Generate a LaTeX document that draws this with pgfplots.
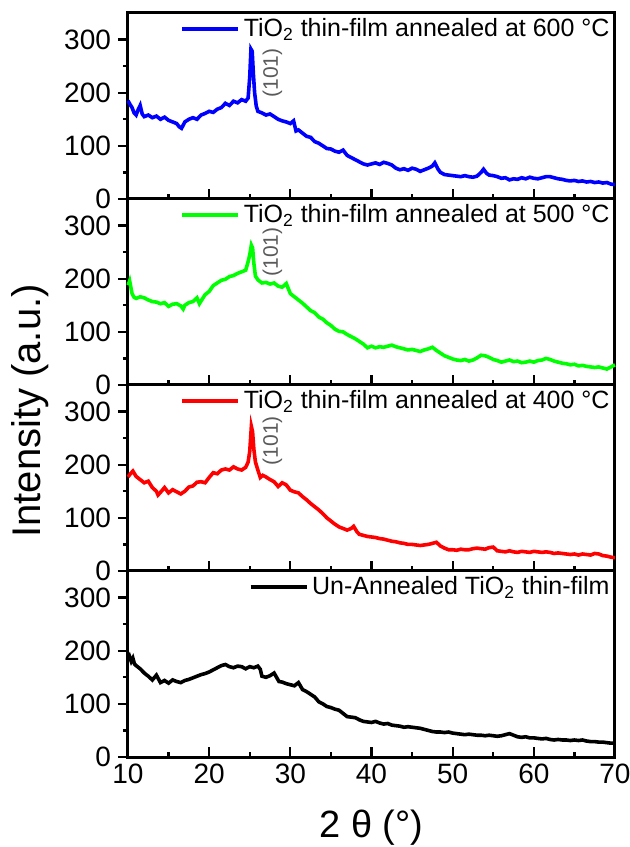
\documentclass[border=0pt]{standalone}
\usepackage{fontspec}
\setmainfont{Liberation Sans}
\usepackage{pgfplots}
\pgfplotsset{compat=1.18}
\definecolor{xgreen}{RGB}{0,255,0}
\definecolor{annot}{RGB}{90,90,90}

\pgfplotsset{
  panel/.style={
    scale only axis,
    width=243.5pt, height=93pt,
    xmin=10, xmax=70, ymin=0, ymax=350,
    xtick={10,20,...,70}, ytick={0,100,200,300},
    minor x tick num=1, minor y tick num=1,
    xtick pos=bottom, ytick pos=left,
    xtick align=inside, ytick align=outside,
    major tick length=5pt, minor tick length=2.5pt,
    every tick/.style={black,line width=1.1pt},
    axis line style={line width=1.5pt},
    tick label style={font=\fontsize{14}{16}\selectfont},
    /pgf/number format/assume math mode=true,
    legend style={at={(1,1)},anchor=north east,draw=none,fill=none,
      inner sep=0.5pt,font=\fontsize{12.5}{14}\selectfont},
    legend image code/.code={\draw[#1,line width=1.6pt] (0pt,0pt) -- (28pt,0pt);},
    clip=false,
  },
  every axis plot/.append style={line width=1.8pt},
}

\begin{document}
\begin{tikzpicture}
\useasboundingbox (-64pt,-45pt) rectangle (251pt,378.5pt);

% 600 C
\begin{axis}[panel, at={(0pt,279pt)}, anchor=south west, xticklabels={}]
\addplot[blue] coordinates {
(10.0,185) (10.25,178) (10.5,172) (10.75,162) (11.0,158) (11.25,168) (11.5,176) (11.75,160)
(12.0,155) (12.5,158) (13.0,153) (13.5,156) (14.0,150) (14.5,154) (15.0,148) (15.5,145)
(16.0,142) (16.3,136) (16.6,133) (17.0,145) (17.5,150) (18.0,153) (18.5,150) (19.0,158)
(19.5,161) (20.0,165) (20.5,163) (21.0,169) (21.5,172) (22.0,180) (22.5,176) (23.0,184)
(23.5,181) (24.0,187) (24.5,184) (24.8,190) (25.0,230) (25.15,282) (25.3,278) (25.45,235)
(25.6,200) (25.8,175) (26.0,165) (26.5,162) (27.0,158) (27.5,160) (28.0,155) (28.5,150)
(29.0,147) (29.5,145) (30.0,142) (30.4,147) (30.7,128) (31.0,130) (31.5,124) (32.0,118)
(32.5,116) (33.0,108) (33.5,105) (34.0,100) (34.5,95) (35.0,94) (35.5,90) (36.0,88)
(36.5,92) (37.0,82) (37.5,78) (38.0,74) (38.5,70) (39.0,66) (39.5,64) (40.0,66)
(40.5,68) (41.0,65) (41.5,69) (42.0,67) (42.5,64) (43.0,58) (43.5,55) (44.0,57)
(44.5,54) (45.0,58) (45.5,56) (46.0,52) (46.5,55) (47.0,58) (47.5,62) (47.8,68)
(48.2,56) (48.5,50) (49.0,46) (49.5,45) (50.0,44) (50.5,43) (51.0,42) (51.5,44)
(52.0,42) (52.5,41) (53.0,43) (53.5,50) (53.8,56) (54.2,48) (54.5,45) (55.0,44)
(55.5,42) (56.0,39) (56.5,40) (57.0,36) (57.5,38) (58.0,37) (58.5,40) (59.0,38)
(59.5,41) (60.0,39) (60.5,38) (61.0,40) (61.5,42) (62.0,42) (62.5,40) (63.0,38)
(63.5,37) (64.0,35) (64.5,34) (65.0,35) (65.5,33) (66.0,34) (66.5,32) (67.0,33)
(67.5,31) (68.0,32) (68.5,30) (69.0,31) (69.5,28) (70.0,27)};
\addlegendentry{TiO\textsubscript{2} thin-film annealed at 600 °C}
\node[rotate=90,text=annot,font=\fontsize{10.5}{12}\selectfont] at (axis cs:27.8,237) {(101)};
\end{axis}

% 500 C
\begin{axis}[panel, at={(0pt,186pt)}, anchor=south west, xticklabels={}]
\addplot[xgreen] coordinates {
(10.0,188) (10.2,196) (10.5,172) (10.75,165) (11.0,163) (11.5,166) (12.0,164) (12.5,160)
(13.0,157) (13.5,156) (14.0,153) (14.5,155) (15.0,148) (15.5,152) (16.0,153) (16.5,149)
(16.8,143) (17.0,150) (17.5,155) (18.0,157) (18.5,164) (18.8,153) (19.0,158) (19.5,170)
(20.0,176) (20.5,187) (21.0,192) (21.5,197) (22.0,199) (22.5,204) (23.0,206) (23.5,210)
(24.0,213) (24.5,216) (24.8,232) (25.0,245) (25.2,263) (25.35,258) (25.5,230) (25.7,205)
(26.0,198) (26.5,192) (27.0,193) (27.5,190) (28.0,192) (28.5,186) (29.0,184) (29.5,191)
(30.0,172) (30.5,166) (31.0,160) (31.5,154) (32.0,147) (32.5,140) (33.0,136) (33.5,128)
(34.0,124) (34.5,117) (35.0,112) (35.5,105) (36.0,101) (36.5,100) (37.0,95) (37.5,91)
(38.0,87) (38.5,82) (39.0,77) (39.5,70) (40.0,73) (40.5,70) (41.0,72) (41.5,71)
(42.0,73) (42.5,75) (43.0,72) (43.5,70) (44.0,68) (44.5,66) (45.0,67) (45.5,65)
(46.0,63) (46.5,66) (47.0,68) (47.5,71) (48.0,65) (48.5,60) (49.0,55) (49.5,52)
(50.0,49) (50.5,47) (51.0,46) (51.5,48) (52.0,45) (52.5,47) (53.0,51) (53.5,56)
(54.0,55) (54.5,52) (55.0,48) (55.5,46) (56.0,43) (56.5,45) (57.0,47) (57.5,44)
(58.0,45) (58.5,42) (59.0,43) (59.5,45) (60.0,43) (60.5,46) (61.0,47) (61.5,50)
(62.0,48) (62.5,45) (63.0,43) (63.5,41) (64.0,40) (64.5,38) (65.0,39) (65.5,36)
(66.0,37) (66.5,35) (67.0,34) (67.5,33) (68.0,34) (68.5,32) (69.0,30) (69.5,34) (70.0,38)};
\addlegendentry{TiO\textsubscript{2} thin-film annealed at 500 °C}
\node[rotate=90,text=annot,font=\fontsize{10.5}{12}\selectfont] at (axis cs:27.8,250) {(101)};
\end{axis}

% 400 C
\begin{axis}[panel, at={(0pt,93pt)}, anchor=south west, xticklabels={}]
\addplot[red] coordinates {
(10.0,177) (10.3,183) (10.6,188) (11.0,178) (11.5,172) (12.0,166) (12.5,169) (13.0,157)
(13.5,150) (13.7,143) (14.0,148) (14.5,157) (15.0,147) (15.5,153) (16.0,149) (16.5,145)
(17.0,150) (17.5,158) (18.0,160) (18.5,167) (19.0,168) (19.5,166) (20.0,176) (20.5,185)
(21.0,183) (21.5,190) (22.0,192) (22.5,190) (23.0,196) (23.5,192) (24.0,190) (24.5,195)
(24.8,205) (25.0,225) (25.2,272) (25.35,262) (25.5,230) (25.7,205) (26.0,190) (26.3,176)
(26.6,180) (27.0,177) (27.5,172) (28.0,168) (28.5,159) (29.0,166) (29.5,162) (30.0,152)
(30.5,149) (31.0,147) (31.5,140) (32.0,134) (32.5,127) (33.0,121) (33.5,115) (34.0,108)
(34.5,100) (35.0,94) (35.5,88) (36.0,83) (36.5,80) (37.0,77) (37.5,80) (37.8,84)
(38.2,74) (38.5,69) (39.0,67) (39.5,65) (40.0,64) (40.5,63) (41.0,61) (41.5,60)
(42.0,58) (42.5,56) (43.0,55) (43.5,53) (44.0,52) (44.5,50) (45.0,50) (45.5,49)
(46.0,48) (46.5,49) (47.0,50) (47.5,52) (48.0,54) (48.5,47) (49.0,43) (49.5,40)
(50.0,40) (50.5,39) (51.0,41) (51.5,40) (52.0,40) (52.5,42) (53.0,43) (53.5,42)
(54.0,41) (54.5,44) (55.0,45) (55.5,38) (56.0,37) (56.5,36) (57.0,38) (57.5,36)
(58.0,35) (58.5,37) (59.0,36) (59.5,35) (60.0,37) (60.5,36) (61.0,35) (61.5,36)
(62.0,35) (62.5,33) (63.0,34) (63.5,33) (64.0,32) (64.5,31) (65.0,32) (65.5,30)
(66.0,32) (66.5,31) (67.0,30) (67.5,33) (68.0,32) (68.5,29) (69.0,28) (69.5,26) (70.0,25)};
\addlegendentry{TiO\textsubscript{2} thin-film annealed at 400 °C}
\node[rotate=90,text=annot,font=\fontsize{10.5}{12}\selectfont] at (axis cs:27.8,245) {(101)};
\end{axis}

% un-annealed
\begin{axis}[panel, at={(0pt,0pt)}, anchor=south west,
  xlabel={2 θ (°)},
  xlabel style={at={(axis description cs:0.5,0)},anchor=center,yshift=-35.5pt,
    font=\fontsize{19}{22}\selectfont}]
\addplot[black] coordinates {
(10.0,182) (10.2,189) (10.4,180) (10.6,186) (10.8,175) (11.0,172) (11.5,166) (12.0,158)
(12.5,152) (13.0,145) (13.5,154) (14.0,140) (14.5,144) (15.0,139) (15.5,145) (16.0,142)
(16.5,140) (17.0,144) (17.5,146) (18.0,149) (18.5,152) (19.0,155) (19.5,157) (20.0,160)
(20.5,164) (21.0,168) (21.5,172) (22.0,174) (22.5,170) (23.0,168) (23.5,171) (24.0,170)
(24.5,166) (25.0,170) (25.5,168) (26.0,171) (26.3,165) (26.5,152) (27.0,150) (27.5,153)
(28.0,158) (28.3,150) (28.6,142) (29.0,141) (29.5,138) (30.0,136) (30.5,134) (31.0,140)
(31.5,127) (32.0,123) (32.5,118) (33.0,113) (33.5,104) (34.0,100) (34.5,95) (35.0,93)
(35.5,90) (36.0,88) (36.5,82) (37.0,76) (37.5,75) (38.0,74) (38.5,70) (39.0,67)
(39.5,66) (40.0,65) (40.5,67) (41.0,64) (41.5,62) (42.0,63) (42.5,60) (43.0,59)
(43.5,58) (44.0,56) (44.5,57) (45.0,56) (45.5,55) (46.0,54) (46.5,52) (47.0,50)
(47.5,48) (48.0,47) (48.5,47) (49.0,46) (49.5,47) (50.0,45) (50.5,44) (51.0,43)
(51.5,42) (52.0,43) (52.5,42) (53.0,41) (53.5,41) (54.0,40) (54.5,41) (55.0,40)
(55.5,39) (56.0,40) (56.5,42) (57.0,44) (57.5,41) (58.0,38) (58.5,37) (59.0,38)
(59.5,36) (60.0,36) (60.5,35) (61.0,34) (61.5,35) (62.0,33) (62.5,32) (63.0,33)
(63.5,32) (64.0,32) (64.5,31) (65.0,32) (65.5,31) (66.0,32) (66.5,30) (67.0,29)
(67.5,29) (68.0,28) (68.5,28) (69.0,27) (69.5,26) (70.0,26)};
\addlegendentry{Un-Annealed TiO\textsubscript{2} thin-film}
\end{axis}

\node[rotate=90,anchor=center,font=\fontsize{20}{24}\selectfont] at (-49pt,173pt) {Intensity (a.u.)};
\end{tikzpicture}
\end{document}
